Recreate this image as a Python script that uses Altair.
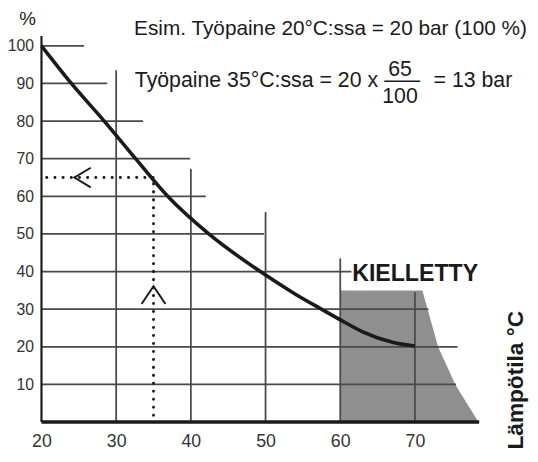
import altair as alt
import pandas as pd

# ---- data ----
curve_temp = [20, 24.0, 28.4, 32.6, 36.9, 42.4, 49.3, 54, 57.5, 59.9, 63, 67, 70]
curve_pct = [100, 90, 80, 70, 60, 50, 40, 34, 30, 27.3, 24, 21.2, 20.2]

hgrid_pct = [100, 90, 80, 70, 60, 50, 40, 30, 20, 10]
hgrid_end = [25.7, 28.8, 33.6, 39.9, 42.0, 49.8, 61.5, 71.8, 75.7, 75.5]

vgrid_temp = [30, 40, 50, 60, 70]
vgrid_top = [93.5, 67.3, 55.8, 43.5, 34.5]

zone_pct = [0, 10, 20, 30, 35]
zone_right = [78.5, 75.4, 73.1, 71.7, 71.0]

x_ticks = [20, 30, 40, 50, 60, 70]
y_ticks = [10, 20, 30, 40, 50, 60, 70, 80, 90, 100]

example_temp = 35
example_pct = 65

FONT = "Liberation Sans, Arial, Helvetica, sans-serif"
INK = "#1a1a1a"
GRID = "#4a4a4a"

xs = alt.Scale(domain=[20, 80], nice=False, zero=False)
ys = alt.Scale(domain=[0, 100], nice=False, zero=False)
xax = alt.Axis(values=x_ticks, domain=False, ticks=False, grid=False, title=None, labelFlush=False,
               labelFont=FONT, labelFontSize=18, labelColor="#333", labelPadding=11)
yax = alt.Axis(values=y_ticks, domain=False, ticks=False, grid=False, title=None, labelFlush=False,
               labelFont=FONT, labelFontSize=16, labelColor="#333", labelPadding=8)


def X(f):
    return alt.X(f, type="quantitative", scale=xs, axis=xax)


def Y(f):
    return alt.Y(f, type="quantitative", scale=ys, axis=yax)


# forbidden zone
zone_df = pd.DataFrame({"p": zone_pct, "r": zone_right, "l": [60] * len(zone_pct)})
zone = alt.Chart(zone_df).mark_area(orient="horizontal", color="#8f8f8f", opacity=1).encode(
    y=Y("p"), x=X("l"), x2="r")

# horizontal grid
hg_df = pd.DataFrame({"y": hgrid_pct, "x0": [20] * len(hgrid_pct), "x1": hgrid_end})
hgrid = alt.Chart(hg_df).mark_rule(color=GRID, strokeWidth=1.8).encode(
    y=Y("y"), x=X("x0"), x2="x1")

# vertical grid
vg_df = pd.DataFrame({"x": vgrid_temp, "y0": [0] * len(vgrid_temp), "y1": vgrid_top})
vgrid = alt.Chart(vg_df).mark_rule(color=GRID, strokeWidth=1.8).encode(
    x=X("x"), y=Y("y0"), y2="y1")

# axes lines
ax_df = pd.DataFrame({"x0": [20, 20], "x1": [20, 78.6], "y0": [0, 0], "y1": [102.6, 0],
                      "w": ["v", "h"]})
yline = alt.Chart(ax_df[ax_df.w == "v"]).mark_rule(color=INK, strokeWidth=2.2).encode(
    x=X("x0"), y=Y("y0"), y2="y1")
xline = alt.Chart(ax_df[ax_df.w == "h"]).mark_rule(color=INK, strokeWidth=3.5).encode(
    x=X("x0"), x2="x1", y=Y("y0"))

# curve
curve_df = pd.DataFrame({"t": curve_temp, "p": curve_pct})
curve = alt.Chart(curve_df).mark_line(color=INK, strokeWidth=3.6, interpolate="monotone").encode(
    x=X("t"), y=Y("p"))

# dotted example lines
dot_h = pd.DataFrame({"x0": [20.7], "x1": [example_temp], "y": [example_pct]})
dot_v = pd.DataFrame({"x": [example_temp], "y0": [1.8], "y1": [example_pct]})
dots_h = alt.Chart(dot_h).mark_rule(color=INK, strokeWidth=3, strokeDash=[0.1, 8.2],
                                    strokeCap="round").encode(x=X("x0"), x2="x1", y=Y("y"))
dots_v = alt.Chart(dot_v).mark_rule(color=INK, strokeWidth=3, strokeDash=[0.1, 8],
                                    strokeCap="round").encode(x=X("x"), y=Y("y0"), y2="y1")

# arrow heads
arrow_df = pd.DataFrame({
    "t": [26.6, 24.4, 26.6, 33.4, 35.0, 36.6],
    "p": [67.6, 65.0, 62.4, 31.4, 36.1, 31.4],
    "g": ["a", "a", "a", "b", "b", "b"],
    "o": [0, 1, 2, 0, 1, 2],
})
arrows = alt.Chart(arrow_df).mark_line(color=INK, strokeWidth=2).encode(
    x=X("t"), y=Y("p"), detail="g", order="o")

# texts
txt1_df = pd.DataFrame({"t": [32.4], "p": [102.9], "s": ["Esim. Työpaine 20°C:ssa = 20 bar (100 %)"]})
txt2_df = pd.DataFrame({"t": [32.5, 72.5], "p": [89.0, 89.0],
                        "s": ["Työpaine 35°C:ssa = 20 x", "= 13 bar"]})
pct_df = pd.DataFrame({"t": [18.15], "p": [105.5], "s": ["%"]})

txt_pct = alt.Chart(pct_df).mark_text(font=FONT, fontSize=19, color=INK,
                                      align="center", baseline="alphabetic").encode(
    x=X("t"), y=Y("p"), text="s")
txt_1 = alt.Chart(txt1_df).mark_text(font=FONT, fontSize=21.1, color=INK,
                                     align="left", baseline="alphabetic").encode(
    x=X("t"), y=Y("p"), text="s")
txt_2 = alt.Chart(txt2_df).mark_text(font=FONT, fontSize=21.6, color=INK,
                                     align="left", baseline="alphabetic").encode(
    x=X("t"), y=Y("p"), text="s")

frac_df = pd.DataFrame({"t": [68.0, 68.0], "p": [92.1, 84.8], "s": ["65", "100"]})
frac = alt.Chart(frac_df).mark_text(font=FONT, fontSize=21.6, color=INK,
                                    align="center", baseline="alphabetic").encode(
    x=X("t"), y=Y("p"), text="s")
bar_df = pd.DataFrame({"x0": [65.9], "x1": [70.7], "y": [90.6]})
fbar = alt.Chart(bar_df).mark_rule(color=INK, strokeWidth=1.5).encode(
    x=X("x0"), x2="x1", y=Y("y"))

kiel_df = pd.DataFrame({"t": [61.6], "p": [37.4], "s": ["KIELLETTY"]})
kiel = alt.Chart(kiel_df).mark_text(font=FONT, fontSize=23.5, fontWeight="bold", color=INK,
                                    align="left", baseline="alphabetic").encode(
    x=X("t"), y=Y("p"), text="s")

lamp_df = pd.DataFrame({"t": [84.5], "p": [-7.3], "s": ["Lämpötila °C"]})
lamp = alt.Chart(lamp_df).mark_text(font=FONT, fontSize=23, fontWeight="bold", color=INK,
                                    align="left", baseline="alphabetic", angle=270).encode(
    x=X("t"), y=Y("p"), text="s")

chart = alt.layer(
    zone, hgrid, vgrid, yline, xline, curve, dots_h, dots_v, arrows,
    txt_pct, txt_1, txt_2, frac, fbar, kiel, lamp
).properties(
    width=455, height=382,
    autosize=alt.AutoSizeParams(type="none"),
    padding={"left": 34, "top": 35, "right": 41, "bottom": 29},
    background="white",
).configure_view(stroke=None)

chart.save("out.html", embed_options={"renderer": "svg", "actions": False})
